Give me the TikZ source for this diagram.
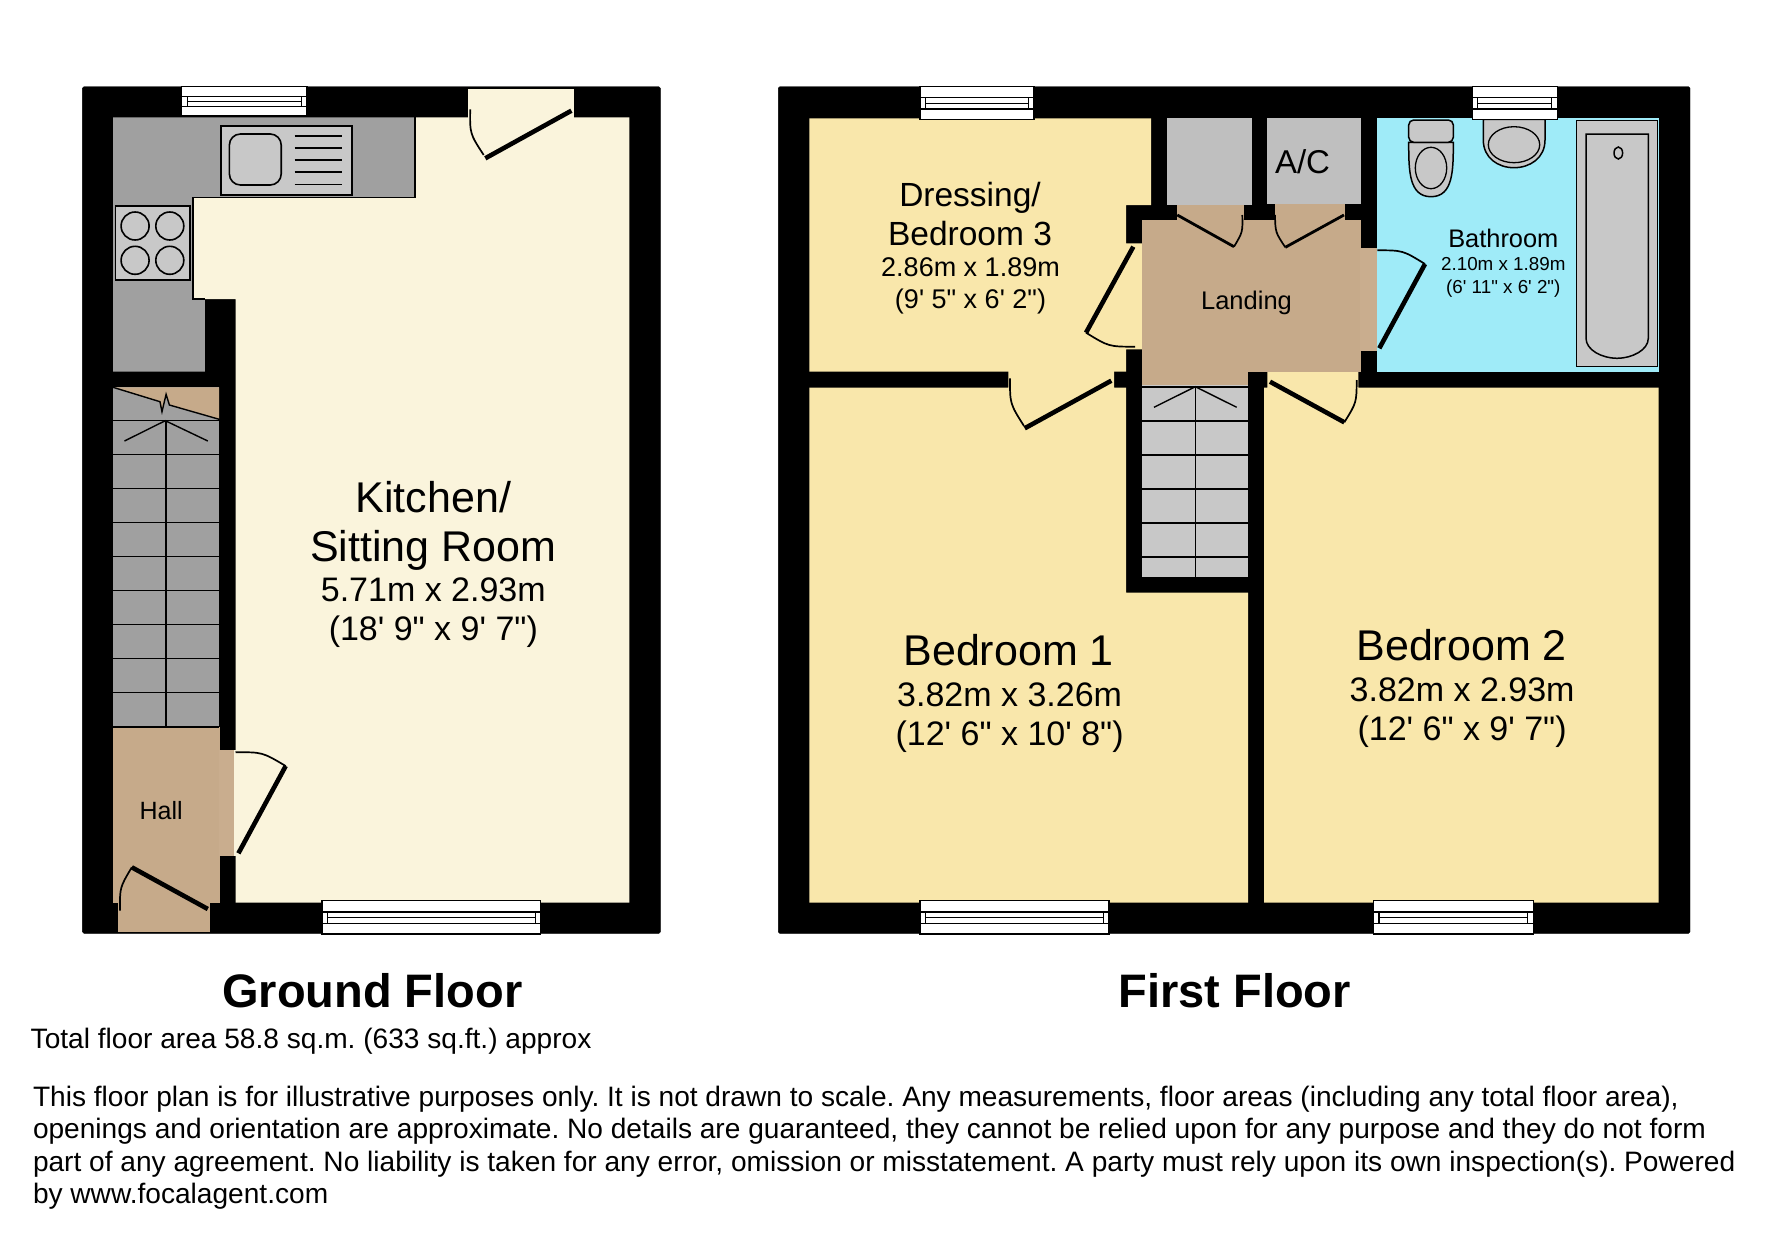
\documentclass[tikz,border=0pt]{standalone}
\usepackage{fontspec}
\setmainfont{Liberation Sans}
\newfontfamily\plainsans{Liberation Sans}
\usetikzlibrary{calc}
\newcommand{\fs}[1]{\plainsans\frenchspacing\fontsize{#1}{#1}\selectfont}
\tikzset{
  wall/.style={fill=black,draw=black,line width=0.4pt,rounded corners=1.5pt},
  leaf/.style={draw=black,line width=4.6pt},
  thinleaf/.style={draw=black,line width=2.8pt},
  swingarc/.style={draw=black,line width=1.7pt},
  edge/.style={draw=black,line width=1.4pt},
  fitting/.style={draw=black,line width=1.5pt,fill=fitgrey},
  tread/.style={draw=black,line width=1.6pt},
  lab/.style={anchor=mid,inner sep=0pt,align=center,text=black},
  foot/.style={anchor=base west,inner sep=0pt,text=black}
}
\definecolor{creamroom}{HTML}{FAF4DC}
\definecolor{yellowroom}{HTML}{F9E7AB}
\definecolor{bathroomblue}{HTML}{9FEBF8}
\definecolor{brownroom}{HTML}{C6AA8A}
\definecolor{brownopen}{HTML}{C9AD8E}
\definecolor{kitgrey}{HTML}{A0A0A0}
\definecolor{fitgrey}{HTML}{C8C8C8}
\definecolor{cupgrey}{HTML}{BFBFBF}
% window: x1 y1 x2 y2
\newcommand{\windowunit}[4]{%
  \draw[black,fill=white,line width=1.3pt] (#1,#2) rectangle (#3,#4);
  \draw[black,line width=1.4pt] (#1,{#2+0.34*(#4-#2)}) -- (#3,{#2+0.34*(#4-#2)});
  \draw[black,line width=1.4pt] (#1,{#2+0.68*(#4-#2)}) -- (#3,{#2+0.68*(#4-#2)});
  \draw[black,line width=1.2pt] ({#1+5.5},{#2+0.34*(#4-#2)}) -- ({#1+5.5},{#2+0.68*(#4-#2)});
  \draw[black,line width=1.2pt] ({#3-5.5},{#2+0.34*(#4-#2)}) -- ({#3-5.5},{#2+0.68*(#4-#2)});
  \draw[black,line width=1.2pt] ({#1+5.5},{#2+0.51*(#4-#2)}) -- ({#3-5.5},{#2+0.51*(#4-#2)});
}
% door: hinge, leaf end, arc start, arc end
\newcommand{\swingdoor}[5][leaf]{%
  \draw[#1] (#2) -- (#3);
  \draw[swingarc] (#4) .. controls ($(#2)!1.075!($(#4)!.5!(#5)$)$) .. (#5);
}
\begin{document}
\begin{tikzpicture}[x=1pt,y=-1pt]
\useasboundingbox (0,0) rectangle (1771,1239);
\fill[white] (0,0) rectangle (1771,1239);
%% ---------- Ground floor
\draw[wall] (82.4,86.7) rectangle (660.4,933.3);
\fill[creamroom] (415,117.3) -- (629.4,117.3) -- (629.4,902.7) -- (235.5,902.7) -- (235.5,299) -- (193,299) -- (193,197.7) -- (415,197.7) -- cycle;
\fill[creamroom] (468.2,89) rectangle (573.5,118);
\fill[creamroom] (233,750) rectangle (236,855.7);
\fill[kitgrey] (113,117.3) -- (415,117.3) -- (415,197.7) -- (193,197.7) -- (193,299) -- (204.9,299) -- (204.9,371.7) -- (113,371.7) -- cycle;
\draw[edge] (415,117.3) -- (415,197.7) -- (193,197.7) -- (193,299) -- (204.9,299);
% sink
\draw[draw=black,line width=1.6pt,fill=fitgrey] (221.2,126) rectangle (351.8,195);
\draw[draw=black,line width=1.6pt,fill=fitgrey,rounded corners=11pt] (229.4,134) rectangle (281.2,185);
\foreach \yy in {136,147.7,160,172,184.3}{\draw[black,line width=1.6pt] (294.7,\yy) -- (342.4,\yy);}
% hob
\draw[draw=black,line width=1.6pt,fill=fitgrey] (115.5,206) rectangle (189.8,280);
\foreach \cx in {135.1,169.8}{\foreach \cy in {226,260.3}{\draw[black,line width=1.6pt] (\cx,\cy) ellipse [x radius=14,y radius=14];}}
% stairs
\fill[kitgrey] (113,387.3) rectangle (219.2,726.7);
\fill[brownroom] (113,387.3) -- (219.2,387.3) -- (219.2,419.3) -- (169.4,405) -- (166.1,394.3) -- (162,411.7) -- (160,401.7) -- cycle;
\draw[black,line width=1.4pt] (113,387.3) -- (160,401.7) -- (162,411.7) -- (166.1,394.3) -- (169.4,405) -- (219.2,419.3);
\foreach \k in {0,...,9}{\draw[tread] (113,{420.3+34.04*\k}) -- (219.2,{420.3+34.04*\k});}
\draw[tread] (166.1,420.3) -- (166.1,726.7);
\draw[black,line width=1.4pt] (124.5,441) -- (165.3,420.7) -- (207.8,441);
% hall
\fill[brownroom] (113,726.7) rectangle (219.6,902.7);
\fill[brownroom] (117.6,902) rectangle (209.8,931.7);
\fill[brownopen] (219.2,750) rectangle (234.3,855.7);
\draw[tread] (113,726.7) -- (219.2,726.7);
\windowunit{181.6}{86.7}{307}{116}
\windowunit{322}{900.7}{540.8}{934}
\swingdoor{571.4,110.7}{485.3,158.3}{470.2,109.3}{483.7,155}
\swingdoor{238.4,853.3}{285.7,766}{235.5,752.3}{285.7,766}
\swingdoor{207.8,909}{131.8,867.3}{120,910.7}{131.8,867.3}
\node[lab,font=\fs{25}] (hall) at (161.2,816.5) {Hall};
\node[lab,font=\fs{43}] (kitchen) at (433.3,509.5) {Kitchen/};
\node[lab,font=\fs{43}] (sitting) at (433.3,559.2) {Sitting Room};
\node[lab,font=\fs{34}] (kitchendim) at (433.3,598.8) {5.71m x 2.93m};
\node[lab,font=\fs{34}] (kitchenimp) at (433.3,638.2) {(18' 9" x 9' 7")};
%% ---------- First floor
\draw[wall] (778.3,86.7) rectangle (1690,933.3);
\fill[yellowroom] (809.3,118.3) -- (1151,118.3) -- (1151,205) -- (1126,205) -- (1126,243.3) -- (1142.8,243.3) -- (1142.8,349.3) -- (1126,349.3) -- (1126,371.7) -- (809.3,371.7) -- cycle;
\fill[yellowroom] (809.3,387.7) -- (1008.3,387.7) -- (1008.3,371) -- (1114,371) -- (1114,387.7) -- (1126,387.7) -- (1126,592.7) -- (1248,592.7) -- (1248,902.7) -- (809.3,902.7) -- cycle;
\fill[yellowroom] (1264,387.7) -- (1267.3,387.7) -- (1267.3,371.7) -- (1358.3,371.7) -- (1358.3,387.7) -- (1658.7,387.7) -- (1658.7,902.7) -- (1264,902.7) -- cycle;
\fill[cupgrey] (1167.3,118.3) rectangle (1252.3,205);
\fill[cupgrey] (1267.3,118.3) rectangle (1360.7,204.3);
\fill[brownroom] (1142.3,220) rectangle (1360.7,371.9);
\fill[brownroom] (1142.3,371) rectangle (1248.3,385);
\fill[brownroom] (1176.7,205) rectangle (1244,220.5);
\fill[brownroom] (1275,204.3) rectangle (1345,220.5);
\fill[brownopen] (1360.4,248.3) rectangle (1377,351);
\fill[bathroomblue] (1376.7,118.3) rectangle (1658.7,371.7);
% stairs
\fill[fitgrey] (1142.3,385) rectangle (1248.3,576.7);
\foreach \yy in {386.7,420.7,454.7,488.7,522.7,556.7}{\draw[tread] (1142.3,\yy) -- (1248.3,\yy);}
\draw[tread] (1195.3,386.7) -- (1195.3,576.7);
\draw[black,line width=1.4pt] (1154,407.3) -- (1195.3,386.7) -- (1236.7,407.3);
% bathroom fittings
\draw[fitting] (1576.7,120.7) rectangle (1657.3,366.7);
\draw[fitting] (1586,134) -- (1648.3,134) -- (1648.3,338.3) .. controls (1648.3,350) and (1632,358.3) .. (1617,358.3) .. controls (1602,358.3) and (1586,350) .. (1586,338.3) -- cycle;
\draw[black,line width=1.5pt] (1618.3,153) ellipse [x radius=4.3,y radius=6];
\draw[fitting] (1408.7,142.3) .. controls (1408.7,170) and (1408.7,196.7) .. (1431,196.7) .. controls (1453.3,196.7) and (1453.3,170) .. (1453.3,142.3) -- cycle;
\draw[fitting,rounded corners=5pt] (1408.7,120) rectangle (1453.3,142.3);
\draw[black,line width=1.3pt] (1431,168) ellipse [x radius=15.7,y radius=20.7];
\draw[fitting] (1483.3,119.3) -- (1545,119.3) -- (1545,140) .. controls (1545,158) and (1530,167.7) .. (1514,167.7) .. controls (1498,167.7) and (1483.3,158) .. (1483.3,140) -- cycle;
\draw[black,line width=1.3pt] (1514,144.7) ellipse [x radius=25.7,y radius=18];
% windows
\windowunit{920}{86.7}{1034}{119.3}
\windowunit{1472.3}{86.7}{1557.3}{119.3}
\windowunit{920}{900.7}{1109}{934}
\windowunit{1373.4}{900.7}{1533.2}{934}
% doors
\swingdoor{1133.3,246.7}{1086,332.7}{1086,332.7}{1135,346.7}
\swingdoor{1111.3,380.7}{1024.7,428.3}{1010,378.3}{1024,426}
\swingdoor[thinleaf]{1177.3,215}{1234,246.7}{1242.3,215}{1234,246.7}
\swingdoor[thinleaf]{1344,215}{1285.3,247.3}{1275,215}{1285.3,247.3}
\swingdoor{1379.3,348.3}{1425,264}{1377.3,250.3}{1425,264}
\swingdoor{1270,381.7}{1344.3,422.3}{1356.7,380}{1344.3,422.3}
% labels
\node[lab,font=\fs{33.5}] (dress) at (970,204) {Dressing/};
\node[lab,font=\fs{33.5}] (bed3) at (970,242.4) {Bedroom 3};
\node[lab,font=\fs{27}] (bed3dim) at (970.5,274.3) {2.86m x 1.89m};
\node[lab,font=\fs{27}] (bed3imp) at (970.5,306) {(9' 5" x 6' 2")};
\node[lab,font=\fs{25.5}] (landing) at (1246.5,306.8) {Landing};
\node[lab,font=\fs{33}] (ac) at (1302.5,171) {A/C};
\node[lab,font=\fs{25.4}] (bath) at (1503.3,245.3) {Bathroom};
\node[lab,font=\fs{18.8}] (bathdim) at (1503.3,268.3) {2.10m x 1.89m};
\node[lab,font=\fs{18.8}] (bathimp) at (1503.3,291) {(6' 11" x 6' 2")};
\node[lab,font=\fs{43}] (bed1) at (1008.6,663) {Bedroom 1};
\node[lab,font=\fs{34}] (bed1dim) at (1009.6,703.6) {3.82m x 3.26m};
\node[lab,font=\fs{34}] (bed1imp) at (1009.6,743) {(12' 6" x 10' 8")};
\node[lab,font=\fs{43}] (bed2) at (1461.6,657.6) {Bedroom 2};
\node[lab,font=\fs{34}] (bed2dim) at (1462.1,698.8) {3.82m x 2.93m};
\node[lab,font=\fs{34}] (bed2imp) at (1462.1,738.3) {(12' 6" x 9' 7")};
%% ---------- Titles and notes
\node[lab,font=\fs{47}\bfseries] (gf) at (372.3,1005.3) {Ground Floor};
\node[lab,font=\fs{47}\bfseries] (ff) at (1234.8,1005.3) {First Floor};
\node[foot,font=\fs{28.1}] (total) at (30.5,1048) {Total floor area 58.8 sq.m. (633 sq.ft.) approx};
\node[foot,font=\fs{28.1}] (n1) at (32.8,1106.4) {This floor plan is for illustrative purposes only. It is not drawn to scale. Any measurements, floor areas (including any total floor area),};
\node[foot,font=\fs{28.1}] (n2) at (32.8,1138.9) {openings and orientation are approximate. No details are guaranteed, they cannot be relied upon for any purpose and they do not form};
\node[foot,font=\fs{28.1}] (n3) at (32.8,1171.2) {part of any agreement. No liability is taken for any error, omission or misstatement. A party must rely upon its own inspection(s). Powered};
\node[foot,font=\fs{28.1}] (n4) at (32.8,1203.2) {by www.focalagent.com};
\end{tikzpicture}
\end{document}
